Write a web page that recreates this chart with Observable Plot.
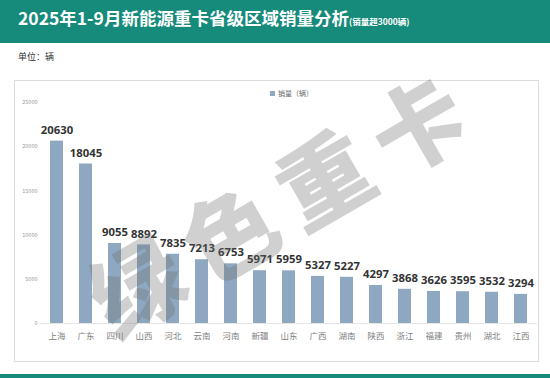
<!DOCTYPE html>
<html><head><meta charset="utf-8">
<script src="https://cdn.jsdelivr.net/npm/d3@7"></script>
<script src="https://cdn.jsdelivr.net/npm/@observablehq/plot@0.6"></script>
<style>
html,body{margin:0;padding:0;background:#fff;}
#wrap{position:relative;width:550px;height:378px;overflow:hidden;font-family:"Noto Sans CJK SC","Noto Sans",sans-serif;}
#head{position:absolute;left:0;top:0;width:550px;height:43px;background:#168a7b;}
#title{position:absolute;left:18px;top:6px;color:#fff;font-weight:700;font-size:17.5px;line-height:24px;white-space:nowrap;}
#title small{font-size:8.5px;font-weight:700;}
#unit{position:absolute;left:18px;top:50px;font-size:9px;color:#333;line-height:14px;}
#panel{position:absolute;left:14px;top:80px;width:525px;height:282px;border:1px solid #dcdcdc;box-sizing:border-box;}
#chart{position:absolute;left:0;top:80px;}
#legend{position:absolute;left:270px;top:87px;font-size:7px;color:#666;line-height:12px;white-space:nowrap;}
#legend i{display:inline-block;width:5px;height:5px;background:#8fa8c2;margin-right:3px;vertical-align:0px;}
#foot{position:absolute;left:0;top:374px;width:550px;height:4px;background:#168a7b;}
#wm{position:absolute;left:282px;top:198px;transform:translate(-50%,-50%) rotate(-30deg);font-size:92px;font-weight:900;color:rgba(110,110,110,0.32);letter-spacing:16px;white-space:nowrap;line-height:1;pointer-events:none;}
</style></head>
<body>
<div id="wrap">
  <div id="head"><div id="title">2025年1-9月新能源重卡省级区域销量分析<small>(销量超3000辆)</small></div></div>
  <div id="unit">单位：辆</div>
  <div id="panel"></div>
  <div id="chart"></div>
  <div id="legend"><i></i>销量（辆）</div>
  <div id="wm">绿色重卡</div>
  <div id="foot"></div>
</div>
<script>
const provinces = ["上海","广东","四川","山西","河北","云南","河南","新疆","山东","广西","湖南","陕西","浙江","福建","贵州","湖北","江西"];
const sales = [20630,18045,9055,8892,7835,7213,6753,5971,5959,5327,5227,4297,3868,3626,3595,3532,3294];
const yTicks = [0,5000,10000,15000,20000,25000];

const data = provinces.map((p,i)=>({p, v: sales[i]}));

const chart = Plot.plot({
  width: 550,
  height: 283,
  marginTop: 22,
  marginBottom: 40,
  marginLeft: 39,
  marginRight: 13,
  style: {background: "transparent", fontFamily: "'Noto Sans CJK SC', sans-serif", overflow: "visible"},
  x: {domain: provinces, paddingInner: 0.56, paddingOuter: 0.28, label: null},
  y: {domain: [0,25000], label: null},
  marks: [
    Plot.ruleY([0], {stroke: "#e6e6e6"}),
    Plot.barY(data, {x: "p", y: "v", fill: "#8fa8c2"}),
    Plot.text(data, {x: "p", y: "v", text: d => String(d.v), dy: -11, fontSize: 11.3, fontWeight: 700, fontFamily: "'Open Sans', sans-serif", fill: "#333"}),
    Plot.axisX({tickSize: 0, tickPadding: 9, fontSize: 8.5, color: "#808080", label: null}),
    Plot.axisY({ticks: yTicks, tickSize: 0, tickPadding: 2, fontSize: 5.5, color: "#999", tickFormat: d => String(d), label: null})
  ]
});
document.getElementById("chart").appendChild(chart);
</script>
</body></html>
